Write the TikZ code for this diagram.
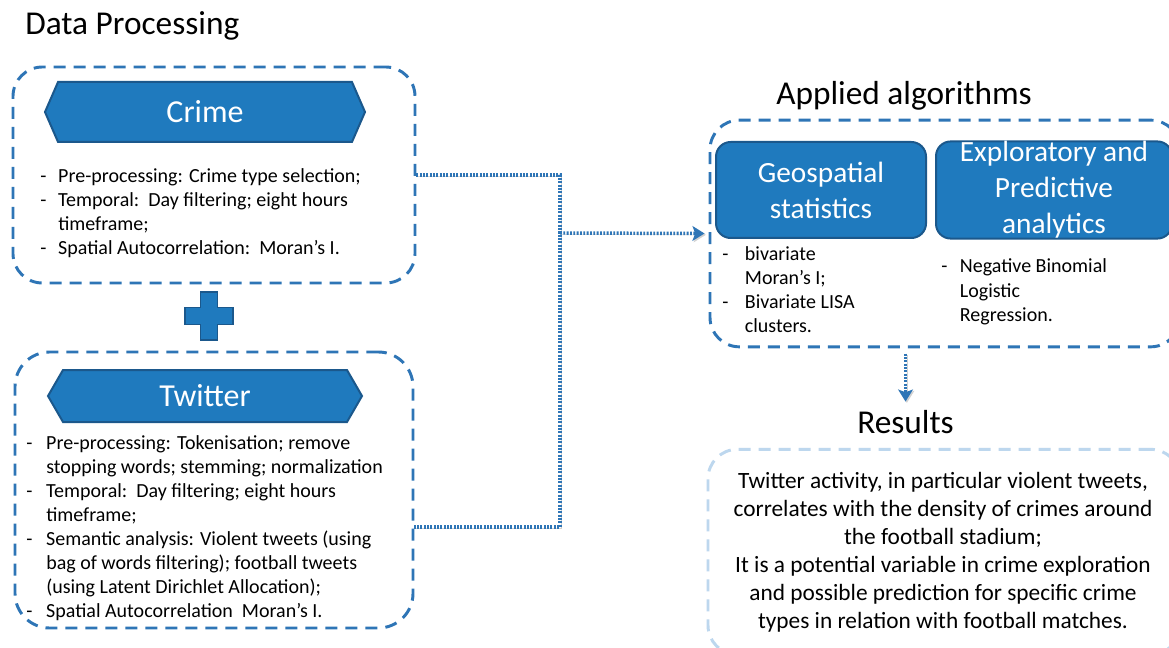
\documentclass[tikz,border=0pt]{standalone}
\usepackage{fontspec}
\setmainfont{Carlito}
\usetikzlibrary{arrows,arrows.meta,shapes.symbols}

\definecolor{lineblue}{RGB}{46,117,182}
\definecolor{boxblue}{RGB}{31,122,190}
\definecolor{edgeblue}{RGB}{27,88,140}
\definecolor{paleblue}{RGB}{189,215,238}

\newcommand{\bodyfont}{\fontsize{15}{18}\selectfont}
\newcommand{\titlefont}{\fontsize{25}{30}\selectfont}

\begin{document}
\begin{tikzpicture}[x=0.75pt,y=-0.75pt,
	groupbox/.style={draw=lineblue, line width=2.2pt, dash pattern=on 9pt off 6pt, rounded corners=22pt, inner sep=0pt},
	banner/.style={shape=signal, signal to=west and east, fill=boxblue, draw=edgeblue, line width=1.5pt, text=white, font=\fontsize{24}{28}\selectfont, inner sep=0pt},
	methodbox/.style={draw=edgeblue, fill=boxblue, line width=1.5pt, rounded corners=11pt, text=white, align=center, font=\fontsize{22}{27}\selectfont, inner sep=0pt},
	heading/.style={font=\titlefont, anchor=base west, inner sep=0pt},
	items/.style={anchor=base west, inner sep=0pt, font=\bodyfont},
	flow/.style={draw=lineblue, line width=2.6pt, dash pattern=on 1.4pt off 1.1pt, preaction={draw=black!18, transform canvas={shift={(1pt,-1pt)}}}},
	tip/.style={-{Stealth[length=9pt,width=11pt,inset=2pt]}}]
		\fill[white] (0,0) rectangle (1169,648);
		\useasboundingbox (0,0) rectangle (1169,648);
		\clip (0,0) rectangle (1169,648);

		\node[heading] (dptitle) at (25,35) {Data Processing};
		\node[heading] (algtitle) at (776,105) {Applied algorithms};
		\node[heading] (restitle) at (857,433) {Results};

		\node[groupbox, minimum width=301.5pt, minimum height=162pt] (crimebox) at (214,175) {};
		\node[banner, minimum width=240pt, minimum height=45pt, signal pointer angle=133] (crime) at (205,112) {Crime};
		\node[items] (crimelist) at (40,183) {\begin{tabular}[t]{@{}p{13.5pt}@{}l@{}}
			- & Pre-processing: Crime type selection;\\
			- & Temporal:\ \ Day filtering; eight hours\\
			  & timeframe;\\
			- & Spatial Autocorrelation:\ \ Moran’s I.
		\end{tabular}};

		\filldraw[fill=boxblue, draw=edgeblue, line width=1.2pt] (200.5,292) -- (217.5,292) -- (217.5,307.5) -- (233,307.5) -- (233,324.5) -- (217.5,324.5) -- (217.5,340) -- (200.5,340) -- (200.5,324.5) -- (185,324.5) -- (185,307.5) -- (200.5,307.5) -- cycle;

		\node[groupbox, minimum width=298.5pt, minimum height=207pt, rounded corners=26pt] (twitbox) at (214,490) {};
		\node[banner, minimum width=235.5pt, minimum height=39pt, signal pointer angle=120] (twitter) at (205,396) {Twitter};
		\node[items] (twitlist) at (26,449) {\begin{tabular}[t]{@{}p{15pt}@{}l@{}}
			- & Pre-processing: Tokenisation; remove\\
			  & stopping words; stemming; normalization\\
			- & Temporal:\ \ Day filtering; eight hours\\
			  & timeframe;\\
			- & Semantic analysis: Violent tweets (using\\
			  & bag of words filtering); football tweets\\
			  & (using Latent Dirichlet Allocation);\\
			- & Spatial Autocorrelation\ \ Moran’s I.
		\end{tabular}};

		\node[groupbox, minimum width=352.5pt, minimum height=170pt] (algobox) at (945,233.5) {};
		\node[methodbox, minimum width=157.5pt, minimum height=72pt] (geo) at (821,190) {Geospatial\\statistics};
		\node[methodbox, minimum width=177pt, minimum height=72pt] (explo) at (1054,190) {Exploratory and\\Predictive\\analytics};
		\node[items] (geolist) at (722,261) {\begin{tabular}[t]{@{}p{17pt}@{}l@{}}
			- & bivariate\\
			  & Moran’s I;\\
			- & Bivariate LISA\\
			  & clusters.
		\end{tabular}};
		\node[items] (explolist) at (941,273) {\begin{tabular}[t]{@{}p{14pt}@{}l@{}}
			- & Negative Binomial\\
			  & Logistic\\
			  & Regression.
		\end{tabular}};

		\node[groupbox, draw=paleblue, minimum width=354pt, minimum height=154pt] (resbox) at (944,552) {};
		\node[align=center, font=\fontsize{17.5}{21}\selectfont] (restext) at (943,552) {Twitter activity, in particular violent tweets,\\
			correlates with the density of crimes around\\
			the football stadium;\\
			It is a potential variable in crime exploration\\
			and possible prediction for specific crime\\
			types in relation with football matches.};

		\coordinate (hub) at (560,233);
		\draw[flow] (crimebox.east) -| (hub) |- ([yshift=-27.75pt]twitbox.east);
		\draw[flow,tip] (hub) -- ([xshift=-3pt]algobox.west);
		\draw[flow,tip,shorten <=4pt] (algobox.south -| restitle.north) -- ([yshift=6pt]restitle.north);
	\end{tikzpicture}
\end{document}
